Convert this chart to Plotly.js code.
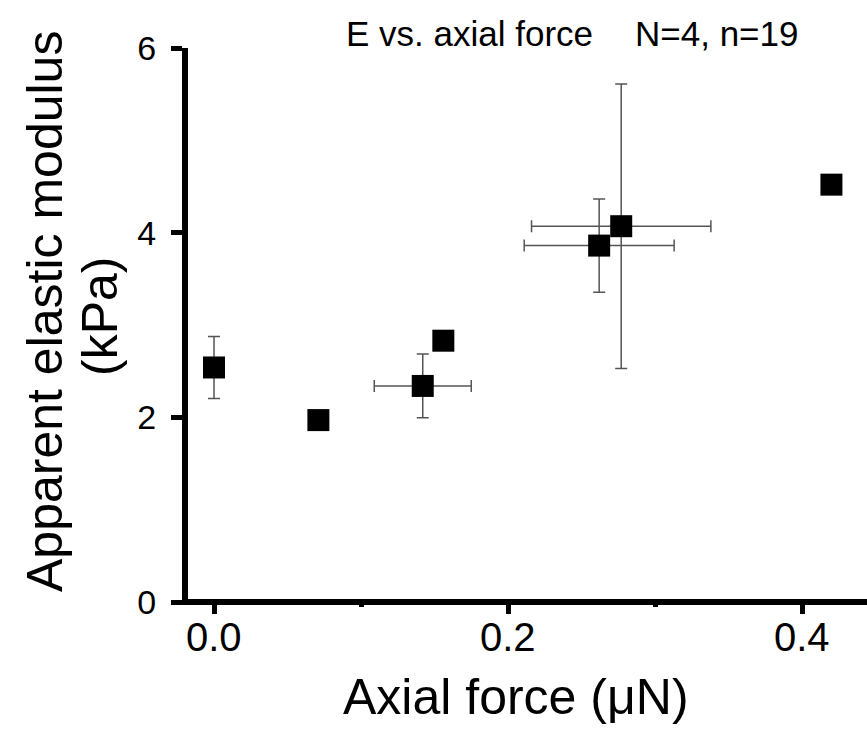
<!DOCTYPE html>
<html>
<head>
<meta charset="utf-8">
<script src="https://cdn.plot.ly/plotly-3.0.1.min.js"></script>
<style>html,body{margin:0;padding:0;background:#fff;}</style>
</head>
<body>
<div id="chart" style="width:867px;height:740px;"></div>
<script>
// Data
const force = [0, 0.071, 0.142, 0.156, 0.262, 0.277, 0.420];          // Axial force (µN)
const modulus = [2.54, 1.97, 2.34, 2.83, 3.86, 4.07, 4.52];           // Apparent elastic modulus (kPa)
const modulusErr = [0.335, null, 0.345, null, 0.505, 1.54, null];
const forceErr = [null, null, 0.033, null, 0.051, 0.061, null];
const xTickVals = [0, 0.2, 0.4];
const xTickText = ['0.0', '0.2', '0.4'];
const yTickVals = [0, 2, 4, 6];
const yTickText = ['0', '2', '4', '6'];
const titleLeft = 'E vs. axial force';
const titleRight = 'N=4, n=19';
const xTitle = 'Axial force (μN)';
const yTitle1 = 'Apparent elastic modulus';
const yTitle2 = '(kPa)';

const ARIAL = 'Liberation Sans, Arial, sans-serif';

const trace = {
  type: 'scatter',
  mode: 'markers',
  x: force,
  y: modulus,
  marker: {symbol: 'square', size: 22, color: '#000'},
  error_y: {type: 'data', array: modulusErr, visible: true, color: '#555', thickness: 1.5, width: 6},
  error_x: {type: 'data', array: forceErr, visible: true, color: '#555', thickness: 1.5, width: 6},
  cliponaxis: false,
  showlegend: false
};

// x tick labels drawn as annotations on the x axis scale (tighter to the axis than Plotly's default)
const xTickLabels = xTickVals.map((v, i) => ({
  text: xTickText[i], xref: 'x', yref: 'paper', x: v, y: (602 - 637) / 554,
  xanchor: 'center', yanchor: 'middle', showarrow: false,
  font: {family: ARIAL, size: 40, color: '#000'}
}));

const layout = {
  width: 867, height: 740,
  margin: {l: 188, r: 0, t: 48, b: 138, pad: 0},
  paper_bgcolor: '#fff', plot_bgcolor: '#fff',
  showlegend: false,
  xaxis: {
    range: [-0.01769, 0.4442],
    showline: false, showgrid: false, zeroline: false,
    tickmode: 'array', tickvals: xTickVals, ticktext: xTickText,
    showticklabels: false,
    ticks: 'outside', ticklen: 11, tickwidth: 5, tickcolor: '#000',
    minor: {ticks: 'outside', dtick: 0.1, tick0: 0, ticklen: 4, tickwidth: 5, tickcolor: '#000', showgrid: false}
  },
  yaxis: {
    range: [0, 6],
    showline: true, linewidth: 6, linecolor: '#000',
    showgrid: false, zeroline: false,
    tickmode: 'array', tickvals: yTickVals, ticktext: yTickText,
    ticks: 'outside', ticklen: 11, tickwidth: 5, tickcolor: '#000',
    tickfont: {family: ARIAL, size: 34, color: '#000'},
    ticklabelstandoff: 8
  },
  shapes: [
    {type: 'line', xref: 'paper', yref: 'paper', x0: -0.0088, x1: 1, y0: 0, y1: 0,
     line: {color: '#000', width: 6}}
  ],
  annotations: xTickLabels.concat([
    {text: titleLeft, xref: 'paper', yref: 'paper', x: (344 - 188) / 679, y: (602 - 33) / 554, xanchor: 'left', yanchor: 'middle',
     showarrow: false, font: {family: ARIAL, size: 35, color: '#000'}},
    {text: titleRight, xref: 'paper', yref: 'paper', x: (633 - 188) / 679, y: (602 - 33) / 554, xanchor: 'left', yanchor: 'middle',
     showarrow: false, font: {family: ARIAL, size: 35, color: '#000'}},
    {text: xTitle, xref: 'paper', yref: 'paper', x: (516 - 188) / 679, y: (602 - 697) / 554, xanchor: 'center', yanchor: 'middle',
     showarrow: false, font: {family: ARIAL, size: 50, color: '#000'}},
    {text: yTitle1, xref: 'paper', yref: 'paper', x: (45 - 188) / 679, y: (602 - 312) / 554, xanchor: 'center', yanchor: 'middle',
     textangle: -90, showarrow: false, font: {family: ARIAL, size: 50, color: '#000'}},
    {text: yTitle2, xref: 'paper', yref: 'paper', x: (100 - 188) / 679, y: (602 - 316) / 554, xanchor: 'center', yanchor: 'middle',
     textangle: -90, showarrow: false, font: {family: ARIAL, size: 50, color: '#000'}}
  ])
};

Plotly.newPlot('chart', [trace], layout, {staticPlot: true, displayModeBar: false});
</script>
</body>
</html>
